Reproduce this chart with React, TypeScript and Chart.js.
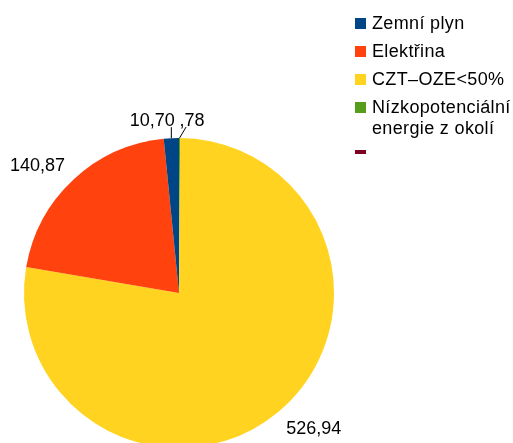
import React, { useEffect, useRef } from "react";
import { Chart, registerables } from "chart.js";
Chart.register(...registerables);

const categories = ["Zemní plyn", "Elektřina", "CZT–OZE<50%", "Nízkopotenciální energie z okolí", ""];
const values = [10.7, 140.87, 526.94, 0.78, 0];
const valueLabels = ["10,70", "140,87", "526,94", ",78", ""];
const colors = ["#004586", "#ff420e", "#ffd320", "#579d1c", "#7e0021"];

const FONT = '"Liberation Sans", Arial, sans-serif';

// LibreOffice draws counter-clockwise from 12 o'clock: reverse for Chart.js (clockwise)
const order = values.map((_, i) => values.length - 1 - i);

const labelPlugin = {
  id: "sliceLabels",
  afterDatasetsDraw(chart: any) {
    const ctx = chart.ctx;
    const meta = chart.getDatasetMeta(0);
    ctx.save();
    ctx.font = `18px ${FONT}`;
    ctx.fillStyle = "#000";
    ctx.strokeStyle = "#000";
    ctx.lineWidth = 1;
    ctx.textBaseline = "alphabetic";
    meta.data.forEach((arc: any, j: number) => {
      const i = order[j];
      const text = valueLabels[i];
      if (!text || !values[i]) return;
      const { x, y, startAngle, endAngle, outerRadius } = arc;
      const mid = (startAngle + endAngle) / 2;
      const span = endAngle - startAngle;
      const c = Math.cos(mid);
      const s = Math.sin(mid);
      const ax = x + c * (outerRadius + 12);
      const ay = y + s * (outerRadius + 12);
      const small = span < 0.2;
      ctx.textAlign = c < 0 ? "right" : "left";
      const by = s < 0 ? ay : ay + 13;
      const tx = small && c < 0 ? ax + 4 : ax;
      ctx.fillText(text, tx, by);
      if (small) {
        const px = x + c * outerRadius;
        const py = y + s * outerRadius;
        const ex = c < 0 ? px : ax + 6.5;
        ctx.beginPath();
        ctx.moveTo(px, py);
        ctx.lineTo(ex, ay + 1);
        ctx.stroke();
      }
    });
    ctx.restore();
  },
};

export default function App() {
  const ref = useRef<HTMLCanvasElement>(null);
  useEffect(() => {
    if (!ref.current) return;
    const chart = new Chart(ref.current, {
      type: "pie",
      data: {
        labels: order.map((i) => categories[i]),
        datasets: [
          {
            data: order.map((i) => values[i]),
            backgroundColor: order.map((i) => colors[i]),
            borderWidth: 0,
            radius: 155,
          } as any,
        ],
      },
      options: {
        responsive: false,
        animation: false,
        events: [],
        layout: { padding: 0 },
        plugins: { legend: { display: false }, tooltip: { enabled: false } },
      },
      plugins: [labelPlugin],
    });
    return () => chart.destroy();
  }, []);

  return (
    <div
      style={{
        position: "fixed",
        left: 0,
        top: 0,
        width: 513,
        height: 443,
        overflow: "hidden",
        background: "#fff",
      }}
    >
      <canvas
        ref={ref}
        width={358}
        height={586}
        style={{ position: "absolute", left: 0, top: 0, width: 358, height: 586 }}
      />
      <div
        style={{
          position: "absolute",
          left: 355,
          top: 13,
          fontFamily: FONT,
          fontSize: 18,
          lineHeight: "21px",
          letterSpacing: "0.35px",
          color: "#000",
        }}
      >
        {categories.map((cat, i) => (
          <div key={i} style={{ display: "flex", alignItems: "flex-start", marginBottom: 7 }}>
            <span
              style={{
                display: "inline-block",
                width: 11,
                height: cat ? 11 : 4,
                marginTop: cat ? 5 : 4,
                marginRight: 6,
                background: colors[i],
                flex: "none",
              }}
            />
            <span style={{ width: 140, minHeight: 21 }}>{cat}</span>
          </div>
        ))}
      </div>
    </div>
  );
}
